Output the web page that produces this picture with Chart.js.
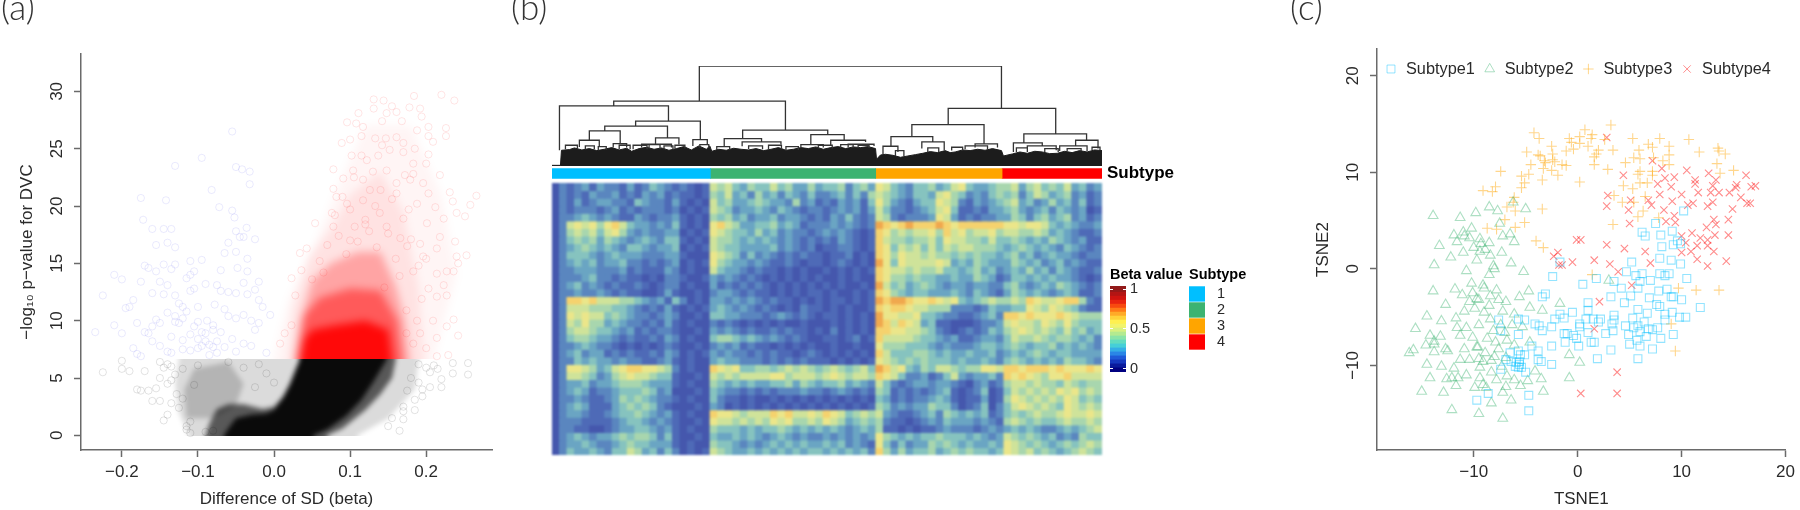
<!DOCTYPE html>
<html>
<head>
<meta charset="utf-8">
<script src="https://cdn.jsdelivr.net/npm/chart.js@4/dist/chart.umd.js"></script>
<style>
html, body { margin: 0; background: #fff; overflow: hidden; }
canvas { position: absolute; filter: blur(0.45px); }
.glowBox { position: absolute; overflow: hidden; width: 500px; }
.glowBox canvas { left: 0; filter: blur(4px); }
</style>
</head>
<body>
<div class="glowBox" style="left:0;top:0;height:359px"><canvas id="volcanoRed" style="top:0" width="500" height="510"></canvas></div>
<div class="glowBox" style="left:0;top:359px;height:77px"><canvas id="volcanoGrey" style="top:-359px;filter:blur(2.5px)" width="500" height="510"></canvas></div>
<canvas id="volcano" style="left:0;top:0" width="500" height="510"></canvas>
<canvas id="dendro" style="left:500px;top:0" width="780" height="170"></canvas>
<canvas id="subtypeBar" style="left:552px;top:153px" width="640" height="41"></canvas>
<canvas id="heat" style="left:552px;top:183px;filter:blur(1px)" width="550" height="272"></canvas>
<canvas id="betaKey" style="left:1110px;top:264px" width="75" height="130"></canvas>
<canvas id="subtypeKey" style="left:1189px;top:264px" width="70" height="106"></canvas>
<canvas id="tsne" style="left:1280px;top:0" width="520" height="510"></canvas>
<script>
// ---- panel (a) volcano ----
const volcanoXTicks = [-0.2, -0.1, 0, 0.1, 0.2];
const volcanoYTicks = [0, 5, 10, 15, 20, 25, 30];

// dense clouds, outlines run past the cut at 6.65 and below zero (those parts are clipped)
const blackCoreX = [-0.066, -0.066, -0.06, -0.05, -0.03, -0.01, 0, 0.01, 0.021, 0.03, 0.034, 0.034, 0.148, 0.148, 0.13, 0.115, 0.095, 0.07, 0.052, 0.052];
const blackCoreY = [-1, 0, 0.6, 1.5, 1.8, 1.9, 2.2, 3.1, 4.5, 6, 6.6, 8, 8, 6.6, 4.6, 3.1, 1.7, 0.5, 0, -1];
const greyMidX = [-0.09, -0.09, -0.085, -0.075, -0.06, -0.04, -0.015, 0, 0.015, 0.03, 0.033, 0.033, 0.16, 0.16, 0.155, 0.14, 0.12, 0.09, 0.07, 0.07];
const greyMidY = [-1, 0, 1, 2.3, 2.7, 2.7, 2.3, 2.5, 3.6, 5.4, 6.6, 8, 8, 6.6, 5, 3.6, 2.2, 0.6, 0, -1];
const greyPaleX = [-0.112, -0.112, -0.125, -0.13, -0.125, -0.125, 0.19, 0.19, 0.185, 0.15, 0.11, 0.11];
const greyPaleY = [-1, 0, 2, 4.5, 6.6, 8, 8, 6.6, 4, 1.5, 0, -1];
const greyPatchX = [-0.115, -0.118, -0.105, -0.06, -0.04, -0.05, -0.08];
const greyPatchY = [1.5, 4, 5.8, 6.4, 4.5, 2.6, 1.5];
const redPaleX = [0, 0, 0.02, 0.05, 0.08, 0.12, 0.18, 0.22, 0.24, 0.21, 0.21];
const redPaleY = [5, 6.68, 12, 16, 21, 27, 27, 21, 14, 6.68, 5];
const redLightX = [0.018, 0.018, 0.025, 0.045, 0.075, 0.1, 0.14, 0.17, 0.19, 0.197, 0.197];
const redLightY = [5, 6.68, 11, 15.5, 18, 21, 23, 19.5, 13, 6.68, 5];
const redMidX = [0.028, 0.028, 0.035, 0.05, 0.075, 0.11, 0.14, 0.16, 0.172, 0.178, 0.178];
const redMidY = [5, 6.68, 10, 13.5, 15, 16, 16, 13, 10, 6.68, 5];
const redDenseX = [0.03, 0.03, 0.04, 0.06, 0.1, 0.14, 0.162, 0.168, 0.168];
const redDenseY = [5, 6.68, 10.5, 12, 12.8, 12.6, 10, 6.68, 5];
const redCoreX = [0.035, 0.035, 0.04, 0.05, 0.08, 0.12, 0.15, 0.155, 0.155];
const redCoreY = [5, 6.68, 8.4, 9.2, 9.6, 10, 9.2, 6.68, 5];

const bluePointsX = [-0.235,-0.21,-0.21,-0.225,-0.2,-0.2,-0.19,-0.195,-0.185,-0.18,-0.185,-0.18,-0.175,-0.175,-0.17,-0.175,-0.172,-0.16,-0.16,-0.165,-0.155,-0.16,-0.15,-0.155,-0.15,-0.145,-0.14,-0.145,-0.142,-0.145,-0.14,-0.135,-0.135,-0.13,-0.13,-0.125,-0.13,-0.135,-0.14,-0.135,-0.13,-0.13,-0.12,-0.125,-0.12,-0.11,-0.105,-0.11,-0.105,-0.11,-0.115,-0.105,-0.11,-0.1,-0.095,-0.09,-0.095,-0.085,-0.088,-0.09,-0.095,-0.095,-0.08,-0.08,-0.075,-0.078,-0.075,-0.07,-0.07,-0.082,-0.072,-0.055,-0.052,-0.065,-0.06,-0.05,-0.045,-0.04,-0.05,-0.055,-0.05,-0.042,-0.032,-0.032,-0.036,-0.025,-0.035,-0.048,-0.035,-0.04,-0.035,-0.025,-0.02,-0.015,-0.02,-0.025,-0.03,-0.05,-0.06,-0.055,-0.065,-0.05,-0.04,-0.01,-0.005,-0.06,-0.05,-0.02,-0.12,-0.15,-0.16,-0.17,-0.1,-0.11,-0.07,-0.04,-0.03,-0.065,-0.13,-0.14,-0.12,-0.1,-0.09,-0.085,-0.075,-0.08,-0.1,-0.115,-0.155,-0.165];
const bluePointsY = [9,9.6,14,12.2,8.9,13.6,11.2,11.1,11.8,9.8,7.6,7.1,6.9,13.4,14.8,20.7,18.8,18,12.4,14.6,14.3,9.5,9.8,16.6,13.4,14.9,13.1,12.3,20.5,18,16.8,18,14.5,14.9,12.2,11.5,9.9,8.6,7.3,7.2,23.5,16.4,7.5,9.8,8.3,7.4,9.5,12.6,12.8,14,13.7,14.3,15.2,11.2,9,8.9,7.8,7,10,13.2,15.3,24.2,7.7,9.2,7.2,11.4,13.1,12.6,14.4,21.4,19.9,19.6,19,15.9,16.8,17.8,17.3,17.3,16,26.5,23.4,23.2,23,21.9,18.1,17.1,15.4,14.6,14.3,13.3,12.3,12.7,11.8,11.2,9.8,9.2,7.8,10.2,10.4,8.4,7.7,7.3,8,7.2,10.5,12.5,12.4,13.4,11.2,7.8,8.2,9,8.4,8.8,9,10.5,10,11,10.4,10.7,10.2,7.6,8.2,7.9,8.2,9.6,9.9,10.8,10.1,8.9];

const redPointsX = [0.131,0.144,0.155,0.184,0.22,0.237,0.178,0.192,0.111,0.131,0.148,0.161,0.194,0.096,0.108,0.117,0.142,0.168,0.203,0.226,0.226,0.203,0.115,0.1,0.133,0.147,0.161,0.188,0.089,0.142,0.17,0.185,0.209,0.137,0.152,0.203,0.102,0.115,0.122,0.17,0.183,0.2,0.104,0.078,0.091,0.13,0.148,0.172,0.183,0.218,0.117,0.161,0.179,0.196,0.078,0.126,0.161,0.203,0.231,0.266,0.258,0.235,0.117,0.133,0.096,0.082,0.188,0.177,0.212,0.251,0.24,0.054,0.076,0.12,0.106,0.148,0.201,0.223,0.078,0.139,0.218,0.166,0.238,0.1,0.043,0.192,0.214,0.034,0.253,0.24,0.196,0.242,0.227,0.214,0.236,0.183,0.036,0.023,0.223,0.203,0.227,0.028,0.214,0.194,0.236,0.227,0.214,0.242,0.014,0.023,0.008,0.183,0.2,0.229,0.214,0.209,0.188,0.174,0.192,0.174,0.06,0.07,0.085,0.095,0.11,0.125,0.135,0.15,0.16,0.175,0.19,0.065,0.08,0.1,0.12,0.155,0.17,0.05,0.09,0.14,0.18,0.2,0.165,0.145,0.105];
const redPointsY = [29.3,29.2,28.7,29.6,29.7,29.2,28.6,28.5,28.1,28.5,28.1,28.2,27.8,27.3,27.2,26.9,27.4,27.4,26.9,26.8,26.1,26.1,26.1,25.8,25.9,25.9,26,26.6,25.5,25.3,25.5,25,25.6,24.4,24.9,24.5,24.4,24.4,24,24.7,23.7,23.7,23.1,23.2,22.4,23,23.1,22.7,22.8,22.7,22.3,22,22.3,22,21.5,21.4,21.1,21.1,21.2,20.9,20.1,20.4,20.5,20,20.2,20.8,20.2,19.7,19.9,19.1,19.4,18.5,19.4,18.8,18.2,18.2,18.5,18.9,18.2,19.4,17.3,17.2,16.9,17,16.3,16.7,16.3,15.9,15.7,15.6,15.6,15,14.3,14.1,14.3,14.3,14.4,13.7,13.1,12.8,12.2,12.2,12.1,11.9,10.1,9.5,8.5,8.7,8.9,9.6,8,8,7.6,7,6.9,10,10,8.9,8.9,10.9,15.2,16.6,17.4,15.8,16.9,17.8,16.4,17.6,15.4,16.5,14.8,14.2,19.2,19.7,18.4,20.6,18.9,13.6,20.8,21.4,17.1,15.4,13.9,12.9,22.5];

const greyPointsX = [-0.225,-0.2,-0.2,-0.19,-0.18,-0.175,-0.17,-0.165,-0.16,-0.155,-0.15,-0.15,-0.145,-0.14,-0.14,-0.135,-0.135,-0.125,-0.12,-0.115,-0.11,-0.105,-0.1,-0.13,-0.128,-0.12,-0.14,-0.15,-0.145,-0.135,-0.115,-0.11,-0.09,-0.08,-0.06,-0.04,-0.02,-0.01,0,-0.025,0.255,0.255,0.235,0.235,0.22,0.22,0.215,0.205,0.2,0.195,0.19,0.185,0.18,0.17,0.17,0.155,0.15,0.165,0.205,0.195,0.21,0.175,0.185,0.19,0.17];
const greyPointsY = [5.5,5.8,6.5,5.6,4,3.9,5.6,3.9,3,4.1,3,5,1.3,1.8,4.5,6,2.8,2.4,5.8,0.8,1.2,4.4,6.1,5.3,3.6,3.2,6.2,6.4,5.9,4.8,0.5,0.2,0.3,0.4,6.4,5.9,6.2,5.4,4.6,4.2,6.3,5.3,6.3,5.4,4.2,4.9,5.8,5.5,5.9,4,4.6,3.1,5,2.5,2.1,1.5,0.8,0.4,4.2,3.4,6.1,3.9,2.2,6.2,1.4];

// ---- panel (b) dendrogram, one entry per merge ----
const mergeLeft  = [401,229,901,120,488,273,211,180,313,388,160,228,285,451,487,625,665,605,700,828,786,848,770,955,935,1053,1032,1157,1125,1060,132,172,198,240,268,300,330,352,402,436,500,540,575,640,685,720,795,860,908,1038,1095,1140,1190];
const mergeRight = [1008,574,1117,339,659,403,337,242,360,417,200,255,345,526,565,692,735,650,752,973,870,893,800,1000,980,1179,1090,1202,1180,1118,156,190,214,262,296,322,348,372,420,462,528,566,600,668,710,742,812,882,930,1060,1122,1168,1206];
const mergeHeight= [299,194,172,180,107,134,119,105,84,79,77,67,65,82,72,94,77,64,65,124,88,72,59,66,60,96,69,77,60,60,62,60,58,62,62,64,60,62,64,58,60,62,58,62,64,62,46,54,56,54,52,52,56];
const mergeDropL = [194,180,124,47,82,119,105,77,65,60,57,55,55,60,59,62,60,55,55,88,59,52,35,55,50,67,42,62,45,47,50,50,48,50,50,52,50,52,54,48,50,50,48,52,54,54,30,42,46,42,42,44,48];
const mergeDropR = [172,107,96,134,94,79,84,67,65,62,57,55,55,72,65,77,72,55,60,65,72,47,42,55,50,77,62,52,45,47,50,50,48,50,50,52,50,52,54,48,50,50,48,52,54,54,30,42,46,42,42,44,48];
const leafTopX = [105,122,124,140,150,165,180,195,210,225,240,255,265,280,295,310,325,340,355,370,385,400,415,422,426,440,455,470,485,500,515,530,545,560,575,590,605,620,635,650,665,680,695,710,725,740,755,757,765,775,790,805,820,835,850,865,880,895,905,915,930,945,960,975,990,1008,1012,1030,1045,1060,1075,1090,1105,1120,1135,1150,1165,1180,1195,1210];
const leafTopH = [2,2,47,49,54,48,52,46,50,55,48,53,44,52,56,50,54,47,52,58,48,60,50,60,44,50,47,53,50,48,52,46,50,55,47,50,55,52,57,50,55,58,52,57,55,58,52,20,33,35,32,26,30,34,38,43,40,46,40,42,48,46,50,47,52,46,30,36,42,38,44,42,37,38,44,40,46,42,48,46];

// ---- panel (b) annotation and heatmap ----
const subtypeNames = ["1", "2", "3", "4"];
const subtypeCounts = [158.5, 165.5, 126.5, 100];
const subtypeColors = ["#00bfff", "#3cb371", "#ffa500", "#ff0000"];
const betaTicks = [0, 0.5, 1];
const betaLevels = [-0.04,0.01,0.06,0.11,0.16,0.21,0.26,0.31,0.36,0.41,0.46,0.51,0.56,0.61,0.66,0.71,0.76,0.81,0.86,0.91,0.96,1.04];
const betaColors = ["#000080","#0a1a9c","#1538bf","#1f5ad8","#2a86e6","#35aee6","#45cfd8","#62dcc0","#8ae4a8","#b4ea90","#d8f080","#f2f46c","#fff050","#ffd23a","#ffaa28","#ff7a18","#f84a10","#e82410","#cf1410","#b31514","#921a1a"];
const heatPalette = ["#4557ad","#4e6ab7","#5a86bf","#6aa5c3","#86c3bf","#a8d6ae","#cfe39a","#ebe68a","#f5d26e","#f0a84e"];
// one digit per sample block: beta value in tenths, groups are subtypes 1-4
const heatRows = [
"021231322131243212101 6564354464533534452453 76432445346743345 5635645463423",
"021213223121323121101 5463425342432422342425 65432443675423245 4524653452312",
"021312332214322131010 6453345433252312132314 75321344765213234 5634235342412",
"021222123121222120101 6542334324321221232313 64221234674112133 4532342432301",
"022343232113212231010 5453423342332121324212 65212223763121223 3542453452312",
"026767578643323241010 7865334453431222323212 98789888987888888 7767764343223",
"025656467532322330101 7654435342322123232101 87565667586756675 6655653432112",
"024545354323432441010 6554343432321212132101 86554556476655464 4543435432311",
"023454343244323340101 6544333342321201122101 87465646465665554 3454343243212",
"024443234333222331000 7654242321212110112010 87576656554545443 4534234332122",
"023434233422121230101 7543323211210110121010 97476666763435433 3543423423211",
"022333222312111320100 6433212110101001010101 87665655644345342 3435342432112",
"022234221211010221001 3232121010101010010100 87554544334335431 2443434332101",
"023423212112101220100 3121212101010101010010 96453454323323322 4532343543212",
"022322321211001310010 2332121101010110100101 87543443334324321 3543432343112",
"028878666554323142010 3323232121101010110101 98998778767434565 5658766788521",
"026665554432121310101 3432321210102110101001 87887665552221243 3447657654211",
"027676645432212320010 4433222123212101101010 97766744322112342 8878777876555",
"026575534322121310100 2121010101001000101010 98687634110001223 6766576575444",
"025665443231212210010 3232121121211010201010 88776654210121243 5676565464534",
"024554332121121320100 4554343232121001101201 86666544323112332 4655654554342",
"022343221010101210010 2323121101010100100100 75554443232223443 4543445343432",
"023423312121121320101 3232212121101210101010 86444554343343342 3434543443333",
"022434332322112310100 3433222121212111010101 76545454443433432 4543434354432",
"027765346788776520100 8767445545656545654564 98674354665455776 8878887877787",
"026654235676654410010 6565666677566656765665 87642231246323342 8787657786666",
"023342334555433310100 5434343344535434453432 64212332332102312 5665655465455",
"023431223444542300010 4322121212223221232121 54121212341012401 4656565767565",
"022321123545432210100 4211010010101010101010 43121223431011301 5765656576454",
"023431113454542100010 3201010101010101010101 54232335442012402 4676565476565",
"023321123445432310100 8776566687866768764565 63211234254343412 4545655676676",
"022211112344323210010 7665656576755657653454 52110123243332321 5654544565565",
"022110012334432310100 5444343445434343432343 51101011232221232 3434322343456",
"023432334545542410010 4334343234323223232323 75434344544434323 6545434232544",
"023343223454433310100 5443232343434334342321 74242335454343343 7654543454565",
"024334324465342420101 6543343434343443434342 85353445345454434 7656454345654"
];

// ---- panel (c) t-SNE ----
const tsneXTicks = [-10, 0, 10, 20];
const tsneYTicks = [-10, 0, 10, 20];
const subtype1X = [10.2,7.5,6.2,6.5,8,9.1,9.6,8.1,9.2,9.9,7.9,9,5.2,9.9,-1.7,4.7,6.2,5.6,7.9,8.8,8.4,10.5,6,7,3.5,1.8,0.5,-2.4,4.2,5.8,7.8,8.6,-3.1,-3.4,5.1,3.2,6.9,9,9.2,10,4.5,1,7.6,7.9,11.8,5.8,1,6.7,9.1,8.4,-0.5,-1.7,3.5,5.3,9.8,10.4,8.4,-2.2,-1.3,0.8,1.5,2.2,3.5,2,0.2,3.3,6.4,0.2,-2.5,4.6,5.8,5.4,6.8,7.2,7.7,3.4,6,1,2.7,-1.3,-1,-0.4,-0.1,4.9,9.2,6.6,8,5.7,-1.2,1.3,1.6,5,6,0.1,-2.5,7.2,3.2,5.8,1.9,-2.5,-4.1,-3.7,-3.4,-7.6,-5.7,-5.1,-7.4,-5.7,-4.4,-3.8,-3.8,-3.5,-6.5,-5.7,-5.1,-5.5,-6.9,-6.4,-5.9,-5.6,-6,-5.6,-5.4,-5.7,-7.4,-5,-8.6,-9.7,-4.7,-4.7];
const subtype1Y = [6,4.7,3.8,3.4,3.5,3.9,2.9,2.3,2.5,2.6,1.1,0.9,0.7,0.5,0.7,-0.3,-0.5,-0.7,-0.5,-0.5,-0.7,-1,-1.3,-1.2,-1.3,-1,-1.6,-0.8,-2,-2,-2.3,-2.1,-2.6,-2.9,-2.8,-2.9,-3,-2.9,-2.9,-3.2,-3.5,-3.5,-3.7,-3.9,-4,-4.2,-4.3,-4.6,-4.5,-4.7,-4.5,-4.7,-4.8,-5.1,-5,-5,-5.3,-5.2,-5.1,-5.2,-5.2,-5.2,-5.3,-5.5,-5.7,-5.7,-5.5,-6,-6,-5.9,-5.9,-6.1,-6.2,-6.3,-6.1,-6.4,-6.5,-6.6,-6.7,-6.7,-6.7,-6.9,-7.2,-6.8,-6.8,-7,-7.2,-7.4,-7.6,-7.6,-7.6,-7.8,-8,-8,-8,-8.3,-8.4,-9.3,-9.3,-9.9,-5.7,-5.9,-6.4,-5.3,-5.2,-5.3,-6.4,-6.8,-8,-8.5,-9.4,-9.6,-8.7,-8.5,-8.9,-8.9,-9.4,-9.6,-9.7,-9.6,-10.1,-9.9,-10.2,-10.2,-10.4,-10.7,-12.9,-13.6,-13.1,-14.7];
const subtype2X = [-13.9,-11.3,-9.8,-8.5,-7.7,-6.2,-5,-7.5,-10.2,-11,-11.9,-10.9,-10.4,-11.6,-13.3,-9.4,-9.3,-8.5,-7.2,-6.5,-6.1,-10,-9.4,-8.9,-11,-7.3,-8.4,-12.2,-9.7,-13.8,-6.4,-8.1,-8,-10.7,-5.2,-8.5,-10.2,-9.1,-9,-13.9,-11.8,-10.1,-7.8,-4.7,-11.1,-8.4,-5.6,-9.7,-9.5,-10.4,-7.6,-6.9,-12.7,-8.5,-1.7,-9.9,-4.6,-10.9,-9,-7.2,-3.4,-14.5,-6.1,-11.7,-8.4,-13.1,-9.5,-7.4,-6.3,-15.6,-11.6,-10.7,-5.3,-8.1,-7,-14.2,-13.2,-11.3,-10.1,-8.7,-13.8,-7.9,-6.8,-4.6,-14.6,-13.8,-6.1,-9.7,-9.6,-12.7,-10.9,-15.8,-7.6,-12.5,-16.2,-13.8,-8.9,-0.8,-8,-11.3,-10.4,-9.5,-6.9,-9.1,-8.3,0.2,-14.5,-13.1,-11.9,-9.4,-7.3,-4.1,-8.3,-6.8,-10.7,-14.2,-12.6,-12.1,-11.5,-9.4,-7.8,-6.1,-4.8,-3.5,-0.8,-11.7,-9.1,-8.8,-9.9,-6.9,-5.5,-15,-12.9,-7.2,-3.3,-6.4,-8.3,-12.1,-9.5,-7.2,3];
const subtype2Y = [5.5,5.3,5.8,6.4,6,6.9,6.2,4.7,4.2,3.8,3.5,3.4,3.2,2.8,2.4,3.1,2.6,2.7,3.4,3.6,2.8,2.2,1.8,2,1.7,1.7,1.4,1.2,0.9,0.4,0.6,0.3,0,-0.2,-0.3,-0.6,-1.5,-1.7,-2,-2.3,-2.1,-2.5,-2.2,-2.3,-2.7,-2.8,-2.9,-3.1,-3.2,-3.4,-3.2,-3.4,-3.7,-3.8,-3.6,-4.1,-4,-4.4,-4.5,-4.4,-4.3,-4.9,-4.7,-5.1,-5.2,-5.4,-5.8,-5.8,-5.8,-6.2,-6.1,-6.1,-6,-6.4,-6.6,-6.9,-7,-6.9,-7.1,-7.2,-7.5,-7.6,-7.4,-7.6,-7.9,-7.8,-7.9,-8.1,-8.1,-8.3,-8.3,-8.4,-8.3,-8.5,-8.7,-8.6,-8.7,-8.9,-9.1,-9.4,-9.4,-9.3,-9.2,-9.6,-9.5,-9.7,-9.9,-10.1,-10.3,-10.2,-10.1,-10.6,-10.7,-11.1,-11,-11.3,-11.4,-11.3,-11.3,-11.3,-11.5,-11.5,-11.6,-11.4,-11.3,-12.1,-12,-12.3,-12.3,-12.2,-12.1,-12.7,-12.8,-12.8,-12.7,-13.6,-13.9,-14.6,-15,-15.5,-1.2];
const subtype3X = [-4.2,-3.7,-2.5,-4.9,-3.6,-3.8,-2.4,-1.1,-0.4,-2.4,-3.2,-3.1,-2.2,-1.5,-1.1,-4.5,-3.3,-2.5,-1.9,-4.7,-5.4,-5.1,-5.4,-3.4,-7.4,-9.1,-8.2,-7.9,-6.1,-6.2,-6.8,-6,-3.4,-5.1,-6,-7,-7.8,-8.7,-4,-3.3,-0.8,0.2,-0.6,0.7,1.4,1.3,0.2,1,2,1.8,1.6,1.6,3.2,2.6,3.4,2.9,0.2,5.3,5.9,6.8,7.2,7.9,8.8,10.7,11.7,13.5,13.6,14.2,13.4,13.7,15,5.4,4.6,6,7.3,8.2,8.8,8.8,7.2,7.2,5.8,6,6.7,6,4.4,5.3,6.5,4.3,5.4,3.5,6.3,5.8,7.8,3.4,1.4,9.7,11.4,13.6,9,9.4];
const subtype3Y = [14.1,13.5,12.7,12.1,11.7,11.8,11.9,12.2,12.4,11.3,11.2,11,11.1,10.8,10.7,10.8,10.4,10.2,9.7,9.8,9.6,8.9,8.4,9.2,10.1,8.1,8,8.5,7.4,6.9,6.4,6,6.2,4.8,4.3,5.1,4.1,4.2,2.9,2.2,13.5,13.7,13.1,14.4,13.9,13.5,13,12.7,12.3,11.9,11.6,10.8,14.9,13.4,12.3,10.3,9,13.5,12.3,12.9,12.6,13.5,12.7,13.4,12.1,12.5,12.2,11.9,10.9,9.9,10.2,11.5,11,11.4,11.5,11.2,11.8,10.8,10.1,9.7,9.8,10.1,8.9,8.9,8.6,8.3,7.5,6.9,6.9,7.6,6,5.4,5.3,4.6,-0.6,-2,-2.2,-2.2,-5.7,-8.5];
const subtype4X = [2.8,7.2,8.1,10.5,4.4,8.4,9.3,7.7,9,11.3,11.3,11.6,12.6,13.3,13,12.8,13.6,14.6,15.3,15.2,16.2,16.7,17.1,15.7,16.3,16.6,2.9,2.8,7.9,10,9.1,5.1,6.8,7.1,4.9,8.3,10.6,11.1,12.5,13,14.9,9.3,8.5,9.4,5,13.1,13.3,12.4,14.5,10,11,13.2,14.5,11.8,12.5,10.4,11.5,12.5,13.1,10.9,10,-0.1,0.3,2.8,4.5,6.5,-1.9,-2.3,-0.5,1.6,3.1,7,11.5,14.3,12.5,-1.5,-1.8,3.9,5.2,2.1,1.6,3.8,0.3,3.8];
const subtype4Y = [13.6,11.2,10.4,10.2,9.7,9.4,9.5,8.8,8.5,9.2,8.8,7.9,9.9,9.2,8.6,7.9,7.9,7.9,8.7,8.4,9.7,8.5,8.6,7.4,6.8,6.8,7.6,6.5,7.7,7.7,7,7.1,7.1,6.6,6.1,6.1,6.6,6.8,6.5,6.9,6.2,5.5,4.9,4.8,4.7,5.1,4.6,4.3,5.1,3.4,3.7,3.5,3.5,3.2,3,2.7,2.4,2.4,1.8,1.8,1.7,3,3,2.5,2.1,1.8,1.7,1.3,0.7,0.9,0.5,0.6,1,0.8,0.3,0.4,0.4,-0.3,-1.7,-3.4,-6.2,-10.7,-12.9,-12.9];
const legendNames = ["Subtype1", "Subtype2", "Subtype3", "Subtype4"];

const sans = "'Liberation Sans', Arial, sans-serif";
const axisColor = "#6a6a6a";
const inkColor = "#2a2a2a";
const minus = (s) => String(s).replace("-", "\u2212");
const zip = (xs, ys) => xs.map((x, i) => ({ x: x, y: ys[i] }));

Chart.defaults.animation = false;
Chart.defaults.responsive = false;
Chart.defaults.plugins.legend.display = false;
Chart.defaults.plugins.tooltip.enabled = false;

// panel letters such as (a)
const panelLetter = {
    id: "panelLetter",
    afterDraw(chart, args, opts) {
        const ctx = chart.ctx;
        ctx.save();
        ctx.font = "300 35px Lato, 'Open Sans', sans-serif";
        ctx.fillStyle = "#333";
        ctx.textBaseline = "alphabetic";
        ctx.fillText(opts.text, opts.x, 20);
        ctx.restore();
    },
};

function rAxis(position, min, max, tickValues, format, title, fitSize, padding, titlePad) {
    const vertical = position === "left";
    return {
        type: "linear",
        position: position,
        min: min,
        max: max,
        afterBuildTicks: (s) => { s.ticks = tickValues.map((v) => ({ value: v })); },
        afterFit: (s) => { if (vertical) s.width = fitSize; else s.height = fitSize; },
        border: { color: axisColor, width: 1.5 },
        grid: { drawOnChartArea: false, tickLength: 7, tickColor: axisColor, tickWidth: 1.5 },
        ticks: {
            autoSkip: false,
            padding: padding,
            color: inkColor,
            font: { family: sans, size: 17 },
            callback: format,
            minRotation: vertical ? 90 : 0,
            maxRotation: vertical ? 90 : 0,
            crossAlign: vertical ? "center" : "near",
        },
        title: {
            display: true,
            text: title,
            color: inkColor,
            font: { family: sans, size: 17 },
            padding: vertical ? { top: titlePad, bottom: 0 } : { top: 0, bottom: titlePad },
        },
    };
}

function patch(xs, ys, color) {
    return {
        data: zip(xs, ys),
        showLine: true,
        fill: "shape",
        backgroundColor: color,
        borderWidth: 0,
        pointRadius: 0,
    };
}

function rings(xs, ys, color) {
    return {
        data: zip(xs, ys),
        pointStyle: "circle",
        pointRadius: 3.6,
        borderWidth: 0.9,
        borderColor: color,
        backgroundColor: "transparent",
    };
}

// soft density layer, same plot box as the axes chart, drawn under it
function glowChart(id, datasets) {
    new Chart(document.getElementById(id), {
        type: "scatter",
        data: { datasets: datasets },
        options: {
            layout: { padding: { top: 54, right: 8, left: 81, bottom: 60 } },
            scales: {
                x: { type: "linear", display: false, min: -0.2537, max: 0.2865 },
                y: { type: "linear", display: false, min: -1.28, max: 33.26 },
            },
        },
    });
}

// first dataset is on top
glowChart("volcanoRed", [
    patch(redCoreX, redCoreY, "rgba(255,0,0,0.9)"),
    patch(redDenseX, redDenseY, "rgba(255,0,0,0.45)"),
    patch(redMidX, redMidY, "rgba(255,0,0,0.28)"),
    patch(redLightX, redLightY, "rgba(255,0,0,0.08)"),
    patch(redPaleX, redPaleY, "rgba(255,0,0,0.04)"),
]);
glowChart("volcanoGrey", [
    patch(blackCoreX, blackCoreY, "#0a0a0a"),
    patch(greyMidX, greyMidY, "rgba(0,0,0,0.6)"),
    patch(greyPatchX, greyPatchY, "rgba(0,0,0,0.18)"),
    patch(greyPaleX, greyPaleY, "rgba(0,0,0,0.14)"),
]);

// panel (a)
new Chart(document.getElementById("volcano"), {
    type: "scatter",
    data: {
        datasets: [
            rings(bluePointsX, bluePointsY, "rgba(70,70,240,0.13)"),
            rings(redPointsX, redPointsY, "rgba(255,0,0,0.12)"),
            rings(greyPointsX, greyPointsY, "rgba(0,0,0,0.13)"),
        ],
    },
    options: {
        layout: { padding: { top: 54, right: 8, left: 0, bottom: 0 } },
        scales: {
            x: rAxis("bottom", -0.2537, 0.2865, volcanoXTicks, (v) => minus(v.toFixed(1)), "Difference of SD (beta)", 60, 5, 0),
            y: rAxis("left", -1.28, 33.26, volcanoYTicks, (v) => String(v), "\u2212log\u2081\u2080 p\u2212value for DVC", 81, 7, 17),
        },
        plugins: { panelLetter: { text: "(a)", x: 1 } },
    },
    plugins: [panelLetter],
});

// panel (b) tree: each merge is an upside-down U, nulls break the line
const treePoints = [];
mergeLeft.forEach((left, i) => {
    treePoints.push({ x: left, y: mergeDropL[i] }, { x: left, y: mergeHeight[i] },
        { x: mergeRight[i], y: mergeHeight[i] }, { x: mergeRight[i], y: mergeDropR[i] },
        { x: null, y: null });
});
new Chart(document.getElementById("dendro"), {
    type: "scatter",
    data: {
        datasets: [
            { data: treePoints, showLine: true, borderColor: "#333", borderWidth: 1.3, pointRadius: 0 },
            { data: zip(leafTopX, leafTopH), showLine: true, fill: "origin", backgroundColor: "#1c1c1c", borderColor: "#1c1c1c", borderWidth: 1, pointRadius: 0 },
        ],
    },
    options: {
        layout: { padding: { top: 66, left: 52, right: 178, bottom: 4 } },
        scales: {
            x: { type: "linear", display: false, min: 105, max: 1210 },
            y: { type: "linear", display: false, min: 0, max: 299 },
        },
        plugins: { panelLetter: { text: "(b)", x: 11 } },
    },
    plugins: [panelLetter],
});

// panel (b) annotation strip, with its name as a tick label
new Chart(document.getElementById("subtypeBar"), {
    type: "bar",
    data: {
        labels: ["Subtype"],
        datasets: subtypeCounts.map((n, i) => ({
            data: [n],
            backgroundColor: subtypeColors[i],
            barPercentage: 1,
            categoryPercentage: 1,
        })),
    },
    options: {
        indexAxis: "y",
        scales: {
            x: { display: false, stacked: true, min: 0, max: 550.5 },
            y: {
                stacked: true,
                position: "right",
                afterFit: (s) => { s.width = 90; },
                border: { display: false },
                grid: { display: false, drawTicks: false },
                ticks: { padding: 5, color: "#000", font: { family: sans, size: 17, weight: "bold" }, autoSkip: false },
            },
        },
    },
});

// panel (b) heatmap: one floating bar series per row
const heatCells = heatRows.map((row) => row.replace(/ /g, "").split("").map(Number));
const heatColumns = heatCells[0].map((_, i) => i);
new Chart(document.getElementById("heat"), {
    type: "bar",
    data: {
        labels: heatColumns,
        datasets: heatCells.map((cells, r) => ({
            data: cells.map(() => [r, r + 1]),
            backgroundColor: cells.map((v) => heatPalette[v]),
            barPercentage: 1,
            categoryPercentage: 1,
            grouped: false,
            inflateAmount: 0.6,
        })),
    },
    options: {
        scales: {
            x: { display: false },
            y: { display: false, type: "linear", reverse: true, min: 0, max: heatRows.length },
        },
    },
});

// panel (b) colour key
new Chart(document.getElementById("betaKey"), {
    type: "bar",
    data: {
        labels: ["beta"],
        datasets: betaColors.map((c, i) => ({
            data: [[betaLevels[i], betaLevels[i + 1]]],
            backgroundColor: c,
            barPercentage: 1,
            categoryPercentage: 1,
            grouped: false,
            inflateAmount: 0.5,
        })),
    },
    options: {
        layout: { padding: { bottom: 22 } },
        scales: {
            x: { display: false },
            y: {
                type: "linear",
                position: "right",
                min: -0.04,
                max: 1.04,
                afterBuildTicks: (s) => { s.ticks = betaTicks.map((v) => ({ value: v })); },
                afterFit: (s) => { s.width = 59; },
                border: { display: false, dash: [3, 10] },
                grid: { color: "#fff", lineWidth: 1, z: 1, drawTicks: false },
                ticks: { padding: 4, color: inkColor, font: { family: sans, size: 14.5 }, callback: (v) => String(v) },
            },
        },
        plugins: {
            title: { display: true, text: "Beta value", align: "start", color: "#000", padding: { top: 3, bottom: 3 }, font: { family: sans, size: 14.5, weight: "bold", lineHeight: 1.1 } },
        },
    },
});

// panel (b) subtype key
new Chart(document.getElementById("subtypeKey"), {
    type: "bar",
    data: {
        labels: subtypeNames,
        datasets: [{
            data: subtypeNames.map(() => 1),
            backgroundColor: subtypeColors,
            barPercentage: 0.96,
            categoryPercentage: 1,
        }],
    },
    options: {
        indexAxis: "y",
        layout: { padding: { bottom: 20 } },
        scales: {
            x: { display: false, min: 0, max: 1 },
            y: {
                position: "right",
                afterFit: (s) => { s.width = 54; },
                border: { display: false },
                grid: { display: false },
                ticks: { autoSkip: false, padding: 4, color: inkColor, font: { family: sans, size: 14.5 } },
            },
        },
        plugins: {
            title: { display: true, text: "Subtype", align: "start", color: "#000", padding: { top: 3, bottom: 3 }, font: { family: sans, size: 14.5, weight: "bold", lineHeight: 1.1 } },
        },
    },
});

// panel (c)
const subtypeMarks = [
    { style: "rect", radius: 5.6, color: "rgba(0,191,255,0.42)" },
    { style: "triangle", radius: 5.6, color: "rgba(60,179,113,0.42)" },
    { style: "cross", radius: 5.2, color: "rgba(255,165,0,0.45)" },
    { style: "crossRot", radius: 5.2, color: "rgba(255,0,0,0.45)" },
];
const subtypeXs = [subtype1X, subtype2X, subtype3X, subtype4X];
const subtypeYs = [subtype1Y, subtype2Y, subtype3Y, subtype4Y];

// R style legend row inside the plot
const rowLegend = {
    id: "rowLegend",
    afterDraw(chart) {
        const ctx = chart.ctx;
        ctx.save();
        legendNames.forEach((name, i) => {
            const x = 111 + i * 98.7;
            ctx.strokeStyle = subtypeMarks[i].color;
            ctx.fillStyle = "transparent";
            Chart.helpers.drawPoint(ctx, { pointStyle: subtypeMarks[i].style, rotation: 0, radius: subtypeMarks[i].radius, borderWidth: 1.1 }, x, 69);
            ctx.fillStyle = inkColor;
            ctx.font = "16.3px " + sans;
            ctx.textBaseline = "middle";
            ctx.fillText(name, x + 15, 70);
        });
        ctx.restore();
    },
};

new Chart(document.getElementById("tsne"), {
    type: "scatter",
    data: {
        datasets: subtypeMarks.map((m, i) => ({
            label: legendNames[i],
            data: zip(subtypeXs[i], subtypeYs[i]),
            pointStyle: m.style,
            pointRadius: m.radius,
            borderWidth: 1.1,
            borderColor: m.color,
            backgroundColor: "transparent",
        })),
    },
    options: {
        layout: { padding: { top: 49, right: 9, left: 0, bottom: 0 } },
        scales: {
            x: rAxis("bottom", -19.3, 20, tsneXTicks, (v) => minus(v), "TSNE1", 60, 5, 0),
            y: rAxis("left", -18.76, 22.77, tsneYTicks, (v) => minus(v), "TSNE2", 97, 2, 33),
        },
        plugins: { panelLetter: { text: "(c)", x: 10 } },
    },
    plugins: [panelLetter, rowLegend],
});
</script>
</body>
</html>
